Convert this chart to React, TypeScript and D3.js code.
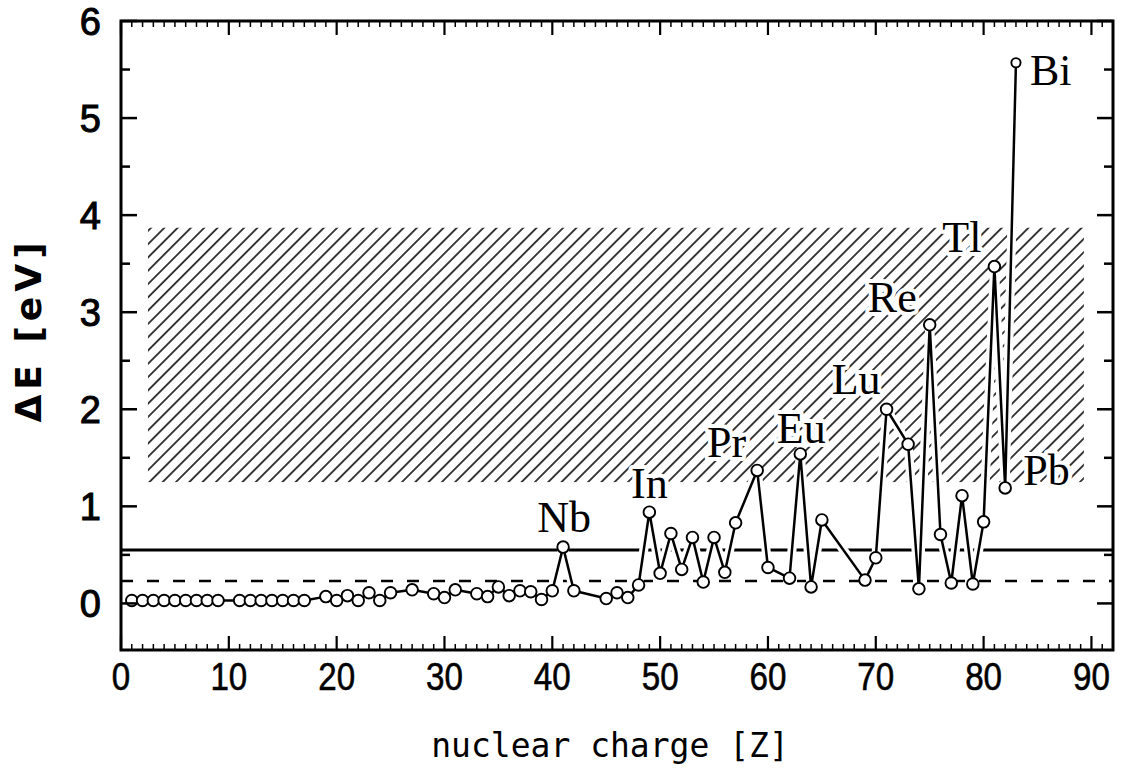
import React from 'react';
import * as d3 from 'd3';

// nuclear charge Z of each measured element (gaps = elements without a point)
const Z = [
  1, 2, 3, 4, 5, 6, 7, 8, 9,
  11, 12, 13, 14, 15, 16, 17,
  19, 20, 21, 22, 23, 24, 25, 27, 29, 30, 31,
  33, 34, 35, 36, 37, 38, 39, 40, 41, 42,
  45, 46, 47, 48, 49, 50, 51, 52, 53, 54, 55, 56, 57,
  59, 60, 62, 63, 64, 65, 69, 70, 71,
  73, 74, 75, 76, 77, 78, 79, 80, 81, 82, 83,
];
// ΔE in eV, same order as Z
const dE = [
  0.03, 0.03, 0.03, 0.03, 0.03, 0.03, 0.03, 0.03, 0.03,
  0.03, 0.03, 0.03, 0.03, 0.03, 0.03, 0.03,
  0.07, 0.03, 0.08, 0.03, 0.11, 0.03, 0.11, 0.14, 0.1, 0.06, 0.14,
  0.1, 0.07, 0.17, 0.08, 0.13, 0.12, 0.04, 0.13, 0.58, 0.13,
  0.05, 0.11, 0.06, 0.19, 0.94, 0.31, 0.72, 0.35, 0.68, 0.22, 0.68, 0.32, 0.83,
  1.37, 0.37, 0.26, 1.54, 0.17, 0.86, 0.24, 0.47, 2.0,
  1.64, 0.15, 2.87, 0.71, 0.21, 1.11, 0.2, 0.84, 3.47, 1.19, 5.57,
];

const labelText = ['Nb', 'In', 'Pr', 'Eu', 'Lu', 'Re', 'Tl', 'Pb', 'Bi'];
const labelZ = [41, 49, 59, 63, 71, 75, 81, 82, 83];

const solidLevel = 0.55;
const dashedLevel = 0.23;
const bandZ = [2.5, 89.3];
const bandE = [1.25, 3.87];

const xTicks = [0, 10, 20, 30, 40, 50, 60, 70, 80, 90];
const yTicks = [0, 1, 2, 3, 4, 5, 6];

const W = 1124;
const H = 774;
const left = 121, right = 1113, top = 21, bottom = 650;

// where each label sits relative to its point
const labelPos: Record<string, [number, number, string]> = {
  Nb: [1, -15, 'middle'],
  In: [0, -14, 'middle'],
  Pr: [-11, -13, 'end'],
  Eu: [1, -11, 'middle'],
  Lu: [-6, -15, 'end'],
  Re: [-13, -13, 'end'],
  Tl: [-13, -15, 'end'],
  Pb: [18, -3, 'start'],
  Bi: [14, 22, 'start'],
};

export default function App() {
  const x = d3.scaleLinear().domain([0, 92]).range([left, right]);
  const y = d3.scaleLinear().domain([-0.48, 6]).range([bottom, top]);

  const pts = Z.map((z, i) => [x(z), y(dE[i])] as [number, number]);
  const line = d3.line()(pts) || '';

  const minorX = d3.range(0, 93, 1);
  const minorY = d3.range(-0.5, 6.01, 0.5).filter((v) => v >= -0.48);

  return (
    <svg width={W} height={H} style={{ position: 'absolute', left: 0, top: 0, background: '#fff' }}>
      <defs>
        <pattern id="hatch" patternUnits="userSpaceOnUse" width={9.4} height={12} patternTransform="rotate(45)">
          <line x1={4.7} y1={0} x2={4.7} y2={12} stroke="#000" strokeWidth={1.5} />
        </pattern>
      </defs>
      <rect width={W} height={H} fill="#fff" />

      {/* hatched band */}
      <rect
        x={x(bandZ[0])}
        y={y(bandE[1])}
        width={x(bandZ[1]) - x(bandZ[0])}
        height={y(bandE[0]) - y(bandE[1])}
        fill="url(#hatch)"
      />

      {/* reference levels */}
      <line x1={left} x2={right} y1={y(solidLevel)} y2={y(solidLevel)} stroke="#000" strokeWidth={3} />
      <line x1={left} x2={right} y1={y(dashedLevel)} y2={y(dashedLevel)} stroke="#000" strokeWidth={2.5} strokeDasharray="12 14" />

      {/* data */}
      <path d={line} fill="none" stroke="#fff" strokeWidth={9} strokeLinejoin="round" />
      <path d={line} fill="none" stroke="#000" strokeWidth={2.5} strokeLinejoin="round" />
      {pts.map((p, i) => (
        <circle key={i} cx={p[0]} cy={p[1]} r={i === pts.length - 1 ? 4.6 : 5.8} fill="#fff" stroke="#000" strokeWidth={1.9} />
      ))}

      {/* element labels */}
      {labelText.map((t, i) => {
        const idx = Z.indexOf(labelZ[i]);
        const [dx, dy, anchor] = labelPos[t];
        return (
          <text
            key={t}
            x={pts[idx][0] + dx}
            y={pts[idx][1] + dy}
            textAnchor={anchor as any}
            fontFamily="'Liberation Serif', 'Times New Roman', serif"
            fontSize={44}
            fill="#000"
            stroke="#fff"
            strokeWidth={8}
            strokeLinejoin="round"
            paintOrder="stroke"
          >
            {t}
          </text>
        );
      })}

      {/* frame */}
      <rect x={left} y={top} width={right - left} height={bottom - top} fill="none" stroke="#000" strokeWidth={3} />

      {/* x ticks bottom and top */}
      {minorX.map((v) => {
        const major = v % 10 === 0;
        const len = major ? 14 : 6;
        return (
          <g key={'x' + v}>
            <line x1={x(v)} x2={x(v)} y1={bottom} y2={bottom - len} stroke="#000" strokeWidth={major ? 2.2 : 1.5} />
            <line x1={x(v)} x2={x(v)} y1={top} y2={top + len} stroke="#000" strokeWidth={major ? 2.2 : 1.5} />
          </g>
        );
      })}
      {/* y ticks left and right */}
      {minorY.map((v) => {
        const major = Math.abs(v - Math.round(v)) < 1e-6;
        const len = major ? 16 : 9;
        return (
          <g key={'y' + v}>
            <line x1={left} x2={left + len} y1={y(v)} y2={y(v)} stroke="#000" strokeWidth={2.5} />
            <line x1={right} x2={right - len} y1={y(v)} y2={y(v)} stroke="#000" strokeWidth={2.5} />
          </g>
        );
      })}

      {/* tick labels */}
      {xTicks.map((t) => (
        <text
          key={'xl' + t}
          transform={`translate(${x(t)},690) scale(0.85,1)`}
          textAnchor="middle"
          fontFamily="'Liberation Sans', Arial, sans-serif"
          fontSize={39}
          fill="#000"
          stroke="#000"
          strokeWidth={0.6}
        >
          {t}
        </text>
      ))}
      {yTicks.map((t) => (
        <text
          key={'yl' + t}
          x={101}
          y={y(t) + 14}
          textAnchor="end"
          fontFamily="'Liberation Sans', Arial, sans-serif"
          fontSize={38}
          fill="#000"
          stroke="#000"
          strokeWidth={1}
        >
          {t}
        </text>
      ))}

      {/* axis titles */}
      <text
        transform="translate(41,330) rotate(-90)"
        textAnchor="middle"
        fontFamily="'DejaVu Sans', sans-serif"
        fontWeight="bold"
        fontSize={36}
        letterSpacing={5}
        fill="#000"
      >
        ΔE [eV]
      </text>
      <text
        x={610}
        y={757}
        textAnchor="middle"
        fontFamily="'DejaVu Sans Mono', monospace"
        fontSize={33}
        fill="#000"
      >
        nuclear charge [Z]
      </text>
    </svg>
  );
}
